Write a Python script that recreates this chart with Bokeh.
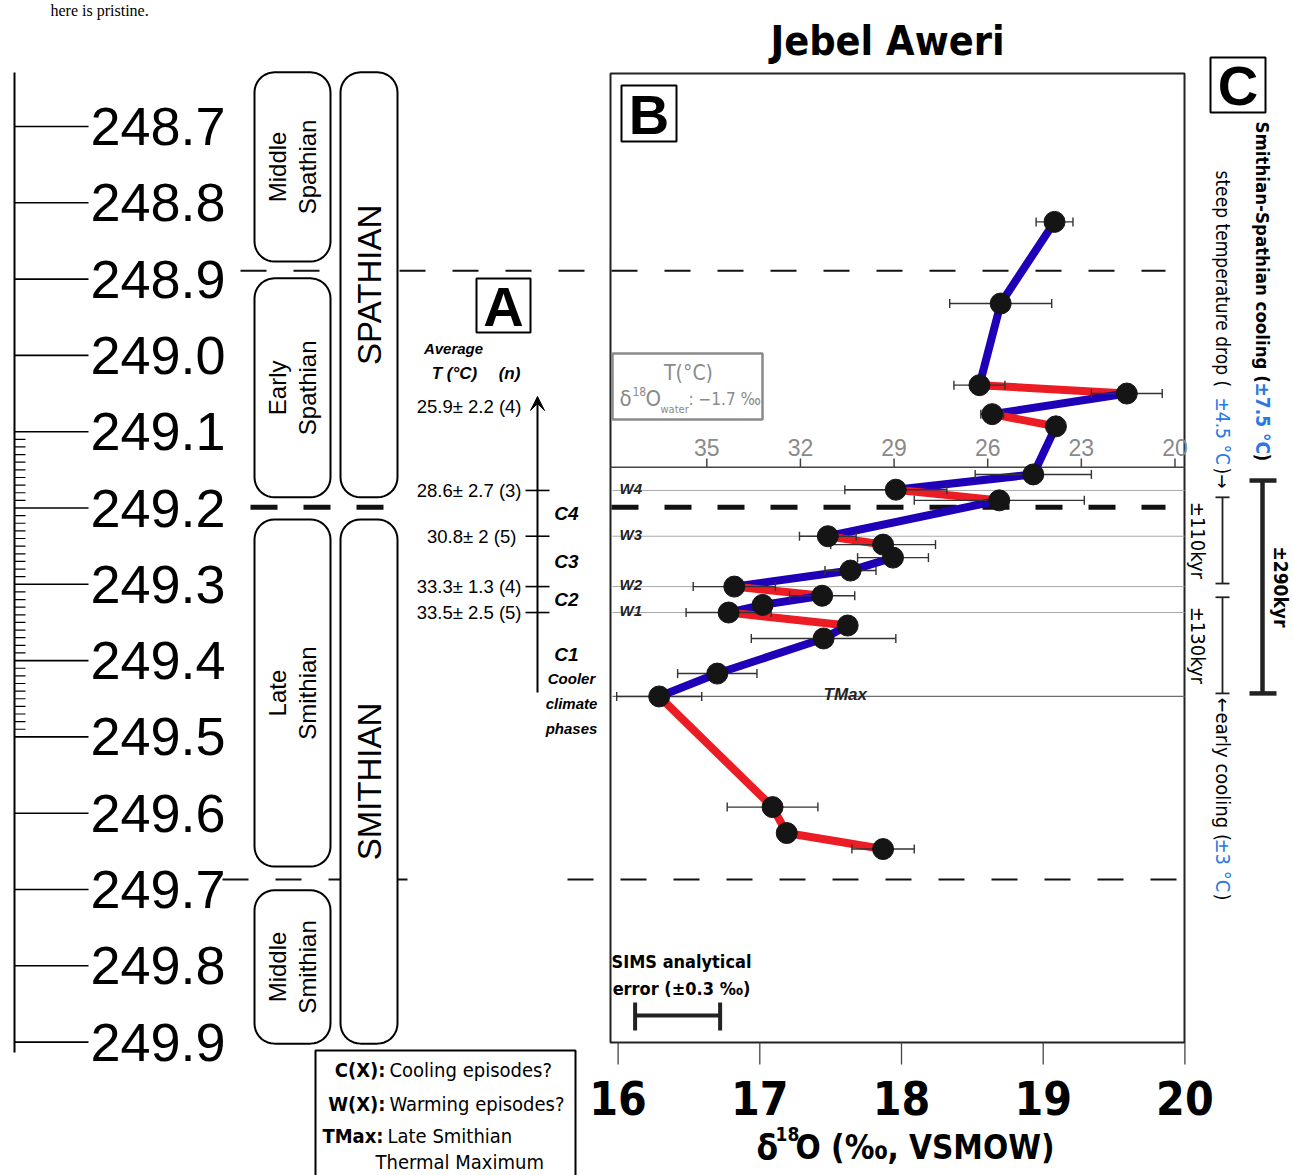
import numpy as np
from bokeh.plotting import figure
from bokeh.models import Range1d, Arrow, VeeHead
from bokeh.core.properties import value
from bokeh.embed import file_html
from bokeh.resources import INLINE

# ---------------- data ----------------
age_ma = [248.825, 248.932, 249.039, 249.050, 249.077, 249.093, 249.156, 249.176, 249.190,
          249.237, 249.248, 249.265, 249.282, 249.303, 249.315, 249.327, 249.337, 249.354,
          249.371, 249.417, 249.447, 249.592, 249.626, 249.647]
d18o = [19.08, 18.70, 18.55, 19.59, 18.64, 19.09, 18.93, 17.96, 18.69,
        17.48, 17.87, 17.94, 17.64, 16.82, 17.44, 17.02, 16.78, 17.62,
        17.45, 16.70, 16.29, 17.09, 17.19, 17.87]
d18o_err = [0.13, 0.36, 0.18, 0.25, 0.08, 0.0, 0.41, 0.36, 0.60,
            0.20, 0.37, 0.25, 0.18, 0.29, 0.23, 0.0, 0.30, 0.0,
            0.51, 0.28, 0.30, 0.32, 0.0, 0.22]

age_ticks = [248.7, 248.8, 248.9, 249.0, 249.1, 249.2, 249.3, 249.4, 249.5, 249.6, 249.7, 249.8, 249.9]
age_tick_labels = ["248.7", "248.8", "248.9", "249.0", "249.1", "249.2", "249.3",
                   "249.4", "249.5", "249.6", "249.7", "249.8", "249.9"]
minor_ticks = [round(249.1 + 0.01 * i, 2) for i in range(1, 40) if i % 10]

boundary_ages = [248.889, 249.199, 249.687]   # Mid/Early Spathian, Spathian/Smithian, Late/Mid Smithian

substage_names = ["Middle\nSpathian", "Early\nSpathian", "Late\nSmithian", "Middle\nSmithian"]
substage_top = [248.629, 248.899, 249.215, 249.701]
substage_bottom = [248.877, 249.186, 249.670, 249.902]
stage_names = ["SPATHIAN", "SMITHIAN"]
stage_top = [248.629, 249.215]
stage_bottom = [249.186, 249.902]

episode_names = ["W4", "W3", "W2", "W1", "TMax"]
episode_ages = [249.177, 249.237, 249.303, 249.337, 249.447]

avg_T_labels = ["25.9\u00b1 2.2 (4)", "28.6\u00b1 2.7 (3)", "30.8\u00b1 2  (5)",
                "33.3\u00b1 1.3 (4)", "33.5\u00b1 2.5 (5)"]
avg_T_ages = [249.067, 249.177, 249.237, 249.303, 249.337]
cooling_names = ["C4", "C3", "C2", "C1"]

temp_ticks = [35, 32, 29, 26, 23, 20]
d18o_water = -1.7
x_ticks = [16, 17, 18, 19, 20]
sims_err = 0.3
sims_center = 16.42

cooling_span = [249.164, 249.443]     # +-290 kyr
steep_span = [249.186, 249.299]       # +-110 kyr
early_span = [249.317, 249.443]       # +-130 kyr


def temp_to_d18o(t):
    return d18o_water + (118.2 - t) / 4.54


# ---------------- canvas mapping (layout only) ----------------
W, H = 1293, 1175
PX16, PXU = 617.6, 141.7
PY0, PYU = 126.0, 763.0


def X(px):
    return 16 + (px - PX16) / PXU


def Y(py):
    return 248.7 + (py - PY0) / PYU


def PX(d):
    return PX16 + (d - 16) * PXU


def PY(a):
    return PY0 + (a - 248.7) * PYU


SANS = "Liberation Sans"
NARROW = "DejaVu Sans Condensed, Liberation Sans"
GREY = "#8a8a8a"
BLUE_TXT = "#2a78e0"
RED = "#ec1c24"
BLUE = "#1f00b8"

p = figure(width=W, height=H, x_range=Range1d(X(0), X(W)), y_range=Range1d(Y(H), Y(0)),
           output_backend="svg", toolbar_location=None, x_axis_type=None, y_axis_type=None,
           min_border=0, outline_line_color=None, background_fill_color="white",
           border_fill_color="white")


def tx(xpx, ypx, s, size, font=SANS, style="normal", color="black", align="left",
       baseline="middle", angle=0.0, lh=1.2):
    p.text(x=[X(xpx)], y=[Y(ypx)], text=[s], text_font=value(font),
           text_font_size=f"{size}px", text_font_style=style, text_color=color,
           text_align=align, text_baseline=baseline, angle=angle, text_line_height=lh)


def hline(x0, x1, a, **kw):
    p.line([X(x0), X(x1)], [a, a], **kw)


def rrect(x0, x1, y0, y1, r=20, n=10):
    pts = []
    for cx, cy, a0 in [(x1 - r, y0 + r, -90), (x1 - r, y1 - r, 0), (x0 + r, y1 - r, 90), (x0 + r, y0 + r, 180)]:
        for t in np.linspace(np.radians(a0), np.radians(a0 + 90), n):
            pts.append((cx + r * np.cos(t), cy + r * np.sin(t)))
    return [X(a) for a, _ in pts], [Y(b) for _, b in pts]


# stray text of the source page (top edge)
tx(50, 1, "here is pristine.", 16, font="Liberation Serif", baseline="top")

# ---------------- boundary dashed lines ----------------
hline(240, 1165, boundary_ages[0], line_color="#111", line_width=2, line_dash="26 27")
hline(250, 383, boundary_ages[1], line_color="#111", line_width=5, line_dash="27 26")
hline(611, 1165, boundary_ages[1], line_color="#111", line_width=5, line_dash="27 26")
hline(222, 420, boundary_ages[2], line_color="#111", line_width=2, line_dash="26 27")
hline(567, 1176, boundary_ages[2], line_color="#111", line_width=2, line_dash="26 27")

# ---------------- left age scale ----------------
p.line([X(14), X(14)], [Y(72), Y(1052)], line_color="black", line_width=2)
p.segment(x0=[X(14)] * len(age_ticks), x1=[X(88)] * len(age_ticks), y0=age_ticks, y1=age_ticks,
          line_color="black", line_width=1.6)
p.segment(x0=[X(14)] * len(minor_ticks), x1=[X(25)] * len(minor_ticks), y0=minor_ticks,
          y1=minor_ticks, line_color="black", line_width=1.2)
p.text(x=[X(90)] * len(age_ticks), y=age_ticks, text=age_tick_labels, text_font=value(SANS),
       text_font_size="54px", text_align="left", text_baseline="middle", text_color="black")

# ---------------- stage boxes ----------------
for name, t, b in zip(substage_names, substage_top, substage_bottom):
    xs, ys = rrect(254, 330, PY(t), PY(b))
    p.patch(xs, ys, fill_color="white", line_color="black", line_width=2)
    p.text(x=[X(292)], y=[(t + b) / 2], text=[name], text_font=value(SANS), text_font_size="24px",
           text_align="center", text_baseline="middle", angle=np.pi / 2, text_line_height=1.12)
for name, t, b in zip(stage_names, stage_top, stage_bottom):
    xs, ys = rrect(340, 397, PY(t), PY(b))
    p.patch(xs, ys, fill_color="white", line_color="black", line_width=2)
    p.text(x=[X(369)], y=[(t + b) / 2], text=[name],
           text_font=value(SANS), text_font_size="33px", text_align="center",
           text_baseline="middle", angle=np.pi / 2)

# ---------------- panel A ----------------
p.quad(left=[X(476)], right=[X(530)], top=[Y(278)], bottom=[Y(332)], fill_color="white",
       line_color="black", line_width=2)
tx(503, 306, "A", 56, SANS, "bold", align="center")
tx(453, 348, "Average", 15, SANS, "bold italic", align="center")
tx(454, 373, "T (\u00b0C)", 17, SANS, "bold italic", align="center")
tx(509, 373, "(n)", 17, SANS, "bold italic", align="center")
p.add_layout(Arrow(end=VeeHead(size=14, fill_color="black", line_color="black"),
                   x_start=X(537), y_start=Y(692), x_end=X(537), y_end=Y(396),
                   line_color="black", line_width=2))
tick_ages = avg_T_ages[1:]
p.segment(x0=[X(525)] * len(tick_ages), x1=[X(549)] * len(tick_ages), y0=tick_ages, y1=tick_ages,
          line_color="black", line_width=1.6)
p.text(x=[X(521)] * len(avg_T_labels), y=avg_T_ages, text=avg_T_labels, text_font=value(SANS),
       text_font_size="18.5px", text_align="right", text_baseline="middle")
c_mid = [(episode_ages[i] + episode_ages[i + 1]) / 2 for i in range(len(cooling_names))]
p.text(x=[X(566)] * len(cooling_names), y=c_mid, text=cooling_names, text_font=value(SANS),
       text_font_size="19px", text_font_style="bold italic", text_align="center",
       text_baseline="middle")
tx(571, 703, "Cooler\nclimate\nphases", 15, SANS, "bold italic", align="center", lh=1.45)

# legend box bottom-left
p.line([X(315), X(315), X(575), X(575)], [Y(1185), Y(1050), Y(1050), Y(1185)],
       line_color="black", line_width=2)
tx(385, 1069, "C(X):", 20, NARROW, "bold", align="right")
tx(389, 1069, "Cooling episodes?", 20, NARROW)
tx(385, 1103, "W(X):", 20, NARROW, "bold", align="right")
tx(389, 1103, "Warming episodes?", 20, NARROW)
tx(383, 1135, "TMax:", 20, NARROW, "bold", align="right")
tx(387, 1135, "Late Smithian", 20, NARROW)
tx(375, 1161, "Thermal Maximum", 20, NARROW)

# ---------------- panel B ----------------
tx(887, 40, "Jebel Aweri", 41, NARROW, "bold", align="center")
p.quad(left=[X(610)], right=[X(1184)], top=[Y(73)], bottom=[Y(1042)], fill_color=None,
       line_color="#222", line_width=2)
p.quad(left=[X(621)], right=[X(676)], top=[Y(85)], bottom=[Y(141)], fill_color="white",
       line_color="black", line_width=2)
tx(648.5, 114, "B", 56, SANS, "bold", align="center")

# episode lines
for nm, a in zip(episode_names, episode_ages):
    col = "#6e6e6e" if nm == "TMax" else "#a8a8a8"
    hline(612, 1184, a, line_color=col, line_width=1.3 if nm == "TMax" else 1.0)
p.text(x=[X(619)] * 4, y=[Y(PY(a) - 2) for a in episode_ages[:4]], text=episode_names[:4],
       text_font=value(SANS), text_font_size="15px", text_font_style="bold italic",
       text_align="left", text_baseline="alphabetic", text_color="#222")
p.text(x=[X(823)], y=[Y(PY(episode_ages[4]) - 2)], text=[episode_names[4]], text_font=value(SANS),
       text_font_size="17px", text_font_style="bold italic", text_align="left",
       text_baseline="alphabetic", text_color="#222")

# temperature scale inside panel
t_axis_age = Y(466.7)
hline(610, 1184, t_axis_age, line_color="#444", line_width=1.5)
t_pos = [temp_to_d18o(t) for t in temp_ticks]
p.segment(x0=t_pos, x1=t_pos, y0=[t_axis_age] * len(t_pos), y1=[Y(458)] * len(t_pos),
          line_color="#444", line_width=1.5)
p.text(x=t_pos, y=[Y(447)] * len(t_pos), text=[str(t) for t in temp_ticks], text_font=value(SANS),
       text_font_size="23px", text_align="center", text_baseline="middle", text_color=GREY)

# T(C) box
p.quad(left=[X(612)], right=[X(762)], top=[Y(353)], bottom=[Y(419)], fill_color="white",
       line_color=GREY, line_width=2.5)
tx(688, 372, "T(\u00b0C)", 21, NARROW, color=GREY, align="center")
tx(619, 398, "\u03b4", 22, NARROW, color=GREY)
tx(632, 391, "18", 12, NARROW, color=GREY)
tx(645, 398, "O", 22, NARROW, color=GREY)
tx(660, 409, "water", 11, NARROW, color=GREY)
tx(688, 398, ": \u22121.7 \u2030", 17, NARROW, color=GREY)

# data: segments coloured by direction
seg_col = [RED if d18o[i + 1] > d18o[i] else BLUE for i in range(len(d18o) - 1)]
p.segment(x0=d18o[:-1], y0=age_ma[:-1], x1=d18o[1:], y1=age_ma[1:], line_color=seg_col,
          line_width=8, line_cap="round")
# error bars
ex, ea, ee = zip(*[(d, a, e) for d, a, e in zip(d18o, age_ma, d18o_err) if e > 0])
ex, ea, ee = np.array(ex), np.array(ea), np.array(ee)
cap = 4.5 / PYU
p.segment(x0=ex - ee, x1=ex + ee, y0=ea, y1=ea, line_color="#333", line_width=1.4)
p.segment(x0=np.r_[ex - ee, ex + ee], x1=np.r_[ex - ee, ex + ee], y0=np.r_[ea - cap, ea - cap],
          y1=np.r_[ea + cap, ea + cap], line_color="#333", line_width=1.4)
p.scatter(d18o, age_ma, size=21, fill_color="#151515", line_color="#151515")

# SIMS error
tx(681, 961, "SIMS analytical", 18, NARROW, "bold", align="center")
tx(681, 988, "error (\u00b10.3 \u2030)", 18, NARROW, "bold", align="center")
sa = Y(1015)
p.segment(x0=[sims_center - sims_err], x1=[sims_center + sims_err], y0=[sa], y1=[sa],
          line_color="#222", line_width=4)
p.segment(x0=[sims_center - sims_err, sims_center + sims_err],
          x1=[sims_center - sims_err, sims_center + sims_err],
          y0=[Y(1002)] * 2, y1=[Y(1030)] * 2, line_color="#222", line_width=4)

# bottom x axis (drawn)
p.segment(x0=x_ticks, x1=x_ticks, y0=[Y(1042)] * 5, y1=[Y(1064)] * 5, line_color="#444",
          line_width=1.3)
p.text(x=x_ticks, y=[Y(1097)] * 5, text=[str(v) for v in x_ticks], text_font=value(NARROW),
       text_font_size="46px", text_font_style="bold", text_align="center", text_baseline="middle")
tx(756, 1147, "\u03b4", 35, NARROW, "bold")
tx(775, 1133, "18", 19, NARROW, "bold")
tx(795, 1147, "O (\u2030, VSMOW)", 33, NARROW, "bold")

# ---------------- panel C ----------------
p.quad(left=[X(1210)], right=[X(1265)], top=[Y(57)], bottom=[Y(112)], fill_color="white",
       line_color="black", line_width=2)
tx(1237.5, 85, "C", 56, SANS, "bold", align="center")
R = -np.pi / 2
tx(1262, 121, "Smithian-Spathian cooling (", 18.5, NARROW, "bold", angle=R)
tx(1262, 382, "\u00b17.5 \u00b0C", 19, NARROW, "bold", color=BLUE_TXT, angle=R)
tx(1262, 453, ")", 19, NARROW, "bold", angle=R)
tx(1222, 170, "steep temperature drop (", 19, NARROW, angle=R)
tx(1222, 397, "\u00b14.5 \u00b0C", 19, NARROW, color=BLUE_TXT, angle=R)
tx(1222, 467, ")\u2192", 19, NARROW, angle=R)
tx(1222, 697, "\u2190early cooling (", 20, NARROW, angle=R)
tx(1222, 838, "\u00b13 \u00b0C", 20, NARROW, color=BLUE_TXT, angle=R)
tx(1222, 893, ")", 20, NARROW, angle=R)

# thick bar
p.segment(x0=[X(1262)], x1=[X(1262)], y0=[cooling_span[0]], y1=[cooling_span[1]],
          line_color="#222", line_width=4.5)
p.segment(x0=[X(1249)] * 2, x1=[X(1276)] * 2, y0=cooling_span, y1=cooling_span,
          line_color="#222", line_width=4.5)
tx(1280, PY((cooling_span[0] + cooling_span[1]) / 2), "\u00b1290kyr", 19, NARROW, "bold",
   align="center", angle=R)
# thin bars
for span, lab in [(steep_span, "\u00b1110kyr"), (early_span, "\u00b1130kyr")]:
    p.segment(x0=[X(1222)], x1=[X(1222)], y0=[span[0]], y1=[span[1]], line_color="#222",
              line_width=1.8)
    p.segment(x0=[X(1215)] * 2, x1=[X(1229)] * 2, y0=span, y1=span, line_color="#222",
              line_width=1.8)
    tx(1197, PY((span[0] + span[1]) / 2), lab, 20, NARROW, align="center", angle=R)

open("out.html", "w").write(file_html(p, INLINE))
